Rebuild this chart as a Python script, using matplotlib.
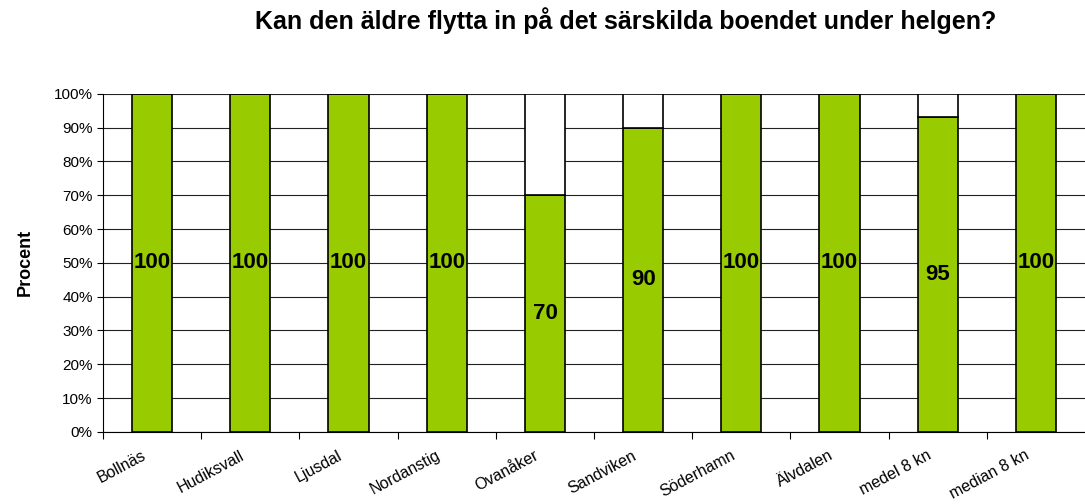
import numpy as np
import matplotlib.pyplot as plt

plt.rcParams['font.family'] = ['Liberation Sans', 'DejaVu Sans']

# data
kommuner = ['Bollnäs', 'Hudiksvall', 'Ljusdal', 'Nordanstig', 'Ovanåker',
            'Sandviken', 'Söderhamn', 'Älvdalen', 'medel 8 kn', 'median 8 kn']
ja = [100, 100, 100, 100, 70, 90, 100, 100, 93, 100]
etiketter = ['100', '100', '100', '100', '70', '90', '100', '100', '95', '100']
nej = [100 - v for v in ja]

fig = plt.figure(figsize=(10.85, 5.04), dpi=100)
ax = fig.add_axes([0.095, 0.143, 0.905, 0.671])

x = np.arange(len(kommuner))
ax.bar(x, ja, width=0.41, color='#99CC00', edgecolor='black', linewidth=1.2, zorder=3)
ax.bar(x, nej, bottom=ja, width=0.41, color='white', edgecolor='black', linewidth=1.2, zorder=3)

for i in x:
    ax.text(i, ja[i] / 2, etiketter[i], ha='center', va='center',
            fontsize=16, fontweight='bold', zorder=4)

ax.set_xlim(-0.5, len(kommuner) - 0.5)
ax.set_ylim(0, 100)
ax.set_yticks(range(0, 101, 10))
ax.set_yticklabels([f'{v}%' for v in range(0, 101, 10)], fontsize=11)
ax.yaxis.grid(True, color='#222222', linewidth=0.8, zorder=0)
ax.set_xticks(np.arange(-0.5, len(kommuner) - 0.5, 1))
ax.set_xticklabels([])
ax.tick_params(axis='x', length=5, color='black')
ax.tick_params(axis='y', length=4)
for i, k in enumerate(kommuner):
    ax.text(i - 0.04, -4.7, k, rotation=28, ha='right', va='top', fontsize=11.5)

ax.spines['right'].set_visible(False)
ax.spines['top'].set_visible(False)
ax.set_ylabel('Procent', fontsize=13, fontweight='bold', labelpad=14)

fig.text(0.577, 0.96, 'Kan den äldre flytta in på det särskilda boendet under helgen?',
         ha='center', va='center', fontsize=18, fontweight='bold')

fig.savefig('out.png', dpi=100)
